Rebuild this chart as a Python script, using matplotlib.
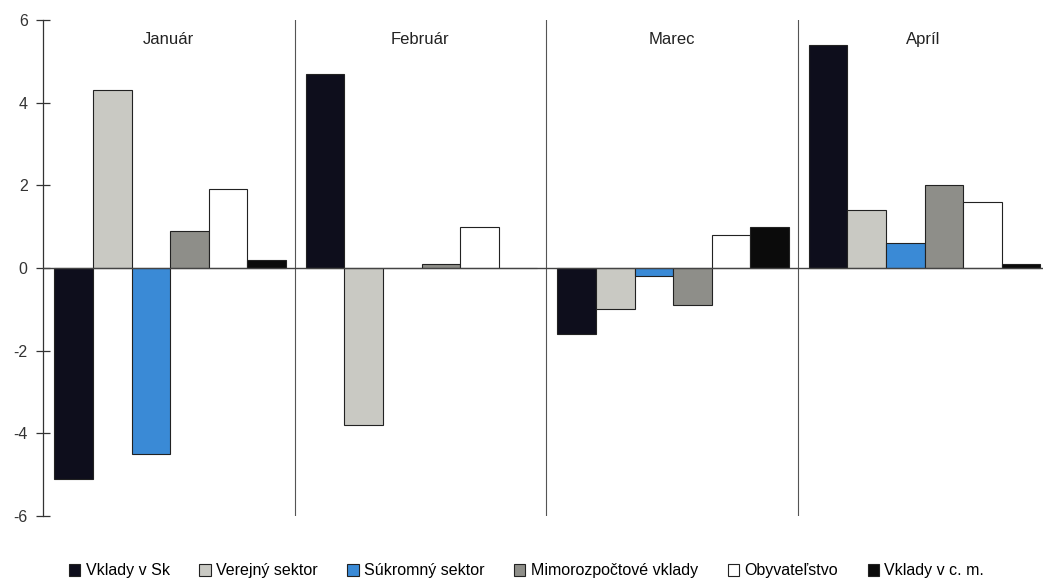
import matplotlib
matplotlib.use("Agg")
import matplotlib.pyplot as plt
import numpy as np
from matplotlib.patches import Patch

plt.rcParams['font.family'] = ['Liberation Sans', 'DejaVu Sans']
plt.rcParams['axes.unicode_minus'] = False

months = ["Január", "Február", "Marec", "Apríl"]
series = ["Vklady v Sk", "Verejný sektor", "Súkromný sektor",
          "Mimorozpočtové vklady", "Obyvateľstvo", "Vklady v c. m."]
vklady_sk = [-5.1, 4.7, -1.6, 5.4]
verejny = [4.3, -3.8, -1.0, 1.4]
sukromny = [-4.5, 0.0, -0.2, 0.6]
mimorozpoctove = [0.9, 0.1, -0.9, 2.0]
obyvatelstvo = [1.9, 1.0, 0.8, 1.6]
vklady_cm = [0.2, 0.0, 1.0, 0.1]
yticks = [-6, -4, -2, 0, 2, 4, 6]

data = [vklady_sk, verejny, sukromny, mimorozpoctove, obyvatelstvo, vklady_cm]
colors = ["#0e0e1c", "#c9c9c3", "#3a8ad6", "#8e8e89", "#ffffff", "#0b0b0b"]

W, H = 1043, 579
fig = plt.figure(figsize=(W/100, H/100), dpi=100)
left_px, right_px, top_px, bot_px = 43, 1043, 20, 516
ax = fig.add_axes([left_px/W, (H-bot_px)/H, (right_px-left_px)/W, (bot_px-top_px)/H])

group_px = 251.5
ax.set_xlim(0, (right_px-left_px)/group_px)
ax.set_ylim(-6, 6)

bw = 0.1535
start = 0.045
x = np.arange(len(months))
for i, (vals, c) in enumerate(zip(data, colors)):
    ax.bar(x + start + i*bw, vals, width=bw, align='edge', color=c,
           edgecolor='#222222', linewidth=0.8, zorder=3)

ax.axhline(0, color='#444444', linewidth=1.0, zorder=4)
for k in range(1, len(months)):
    ax.axvline(k, color='#555555', linewidth=0.8, zorder=1)

for k, m in enumerate(months):
    ax.text(k + 0.5, 5.54, m, ha='center', va='center', fontsize=12, color='#222222')

for s in ['top', 'right', 'bottom']:
    ax.spines[s].set_visible(False)
ax.spines['left'].set_color('#333333')
ax.spines['left'].set_linewidth(0.9)
ax.set_xticks([])
ax.set_yticks(yticks)
ax.tick_params(axis='y', direction='inout', length=10, width=0.9,
               colors='#333333', labelsize=11.5, pad=6)

handles = [Patch(facecolor=c, edgecolor='#222222', linewidth=0.8) for c in colors]
fig.legend(handles, series, loc='center', bbox_to_anchor=(0.505, (H-571)/H),
           ncol=6, frameon=False, fontsize=11.5, handlelength=0.7, handleheight=0.7,
           handletextpad=0.35, columnspacing=1.85)

fig.savefig("out.png", dpi=100)
